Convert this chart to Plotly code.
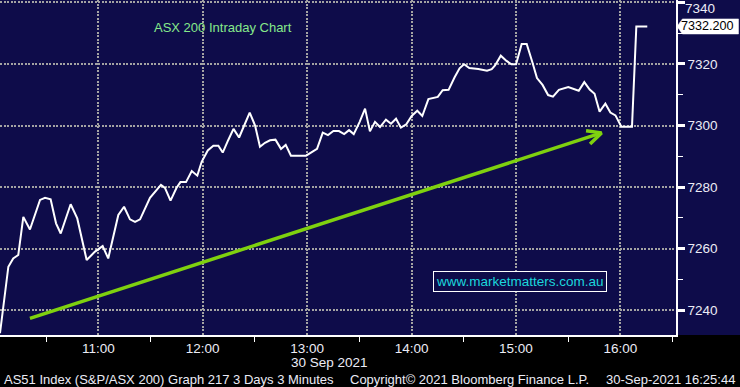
import plotly.graph_objects as go

DATE = "2021-09-30 "

times = [
    "10:03:30", "10:08:18", "10:11:06", "10:14:00", "10:16:54", "10:20:42", "10:26:30", "10:29:24",
    "10:32:36", "10:35:42", "10:38:24", "10:44:06", "10:47:54", "10:53:18", "10:58:06", "11:02:30",
    "11:05:42", "11:11:30", "11:14:48", "11:18:12", "11:21:06", "11:24:00", "11:29:42", "11:32:36",
    "11:36:00", "11:38:18", "11:41:30", "11:44:54", "11:47:12", "11:50:24", "11:53:42", "11:56:54",
    "11:59:24", "12:02:54", "12:06:06", "12:09:00", "12:11:30", "12:14:42", "12:17:42", "12:20:54",
    "12:27:00", "12:30:06", "12:32:54", "12:35:48", "12:38:42", "12:41:48", "12:45:00", "12:47:42",
    "12:50:42", "12:59:24", "13:05:42", "13:09:00", "13:12:00", "13:15:06", "13:18:18", "13:21:18",
    "13:24:06", "13:26:48", "13:30:12", "13:33:18", "13:36:06", "13:39:00", "13:41:54", "13:45:18",
    "13:48:12", "13:51:06", "13:53:54", "13:57:00", "14:00:06", "14:03:18", "14:06:12", "14:09:42",
    "14:15:06", "14:17:54", "14:21:18", "14:24:42", "14:27:36", "14:30:12", "14:33:12", "14:38:24",
    "14:43:24", "14:46:06", "14:48:00", "14:51:18", "14:54:36", "14:57:24", "15:00:06", "15:03:18",
    "15:06:12", "15:09:30", "15:12:06", "15:15:18", "15:18:30", "15:21:18", "15:24:42", "15:30:06",
    "15:36:06", "15:39:18", "15:42:24", "15:45:12", "15:48:06", "15:51:24", "15:54:18", "15:57:12",
    "16:00:36", "16:06:42", "16:09:12", "16:15:30",
]
values = [
    7232.5, 7254.1, 7256.8, 7257.9, 7270.3, 7266.2, 7275.8, 7276.5,
    7276.0, 7268.2, 7264.9, 7274.4, 7269.8, 7256.3, 7259.0, 7260.8,
    7256.8, 7270.9, 7273.6, 7269.5, 7268.7, 7269.5, 7276.5, 7278.5,
    7280.7, 7279.7, 7275.6, 7279.7, 7281.6, 7281.6, 7285.2, 7283.7,
    7288.2, 7291.9, 7293.4, 7293.4, 7291.2, 7295.3, 7298.9, 7296.1,
    7304.2, 7300.0, 7293.1, 7294.4, 7295.2, 7295.4, 7292.4, 7293.7,
    7290.2, 7290.2, 7292.4, 7297.7, 7296.9, 7298.2, 7298.2, 7297.2,
    7298.5, 7297.2, 7301.2, 7305.5, 7298.1, 7301.2, 7299.5, 7301.9,
    7300.6, 7302.2, 7299.3, 7300.4, 7303.1, 7304.8, 7303.1, 7308.6,
    7309.3, 7311.5, 7311.6, 7315.6, 7318.6, 7319.9, 7318.7, 7318.4,
    7317.8, 7318.3, 7319.5, 7322.7, 7321.0, 7319.9, 7319.9, 7326.5,
    7326.5, 7320.5, 7315.4, 7313.2, 7309.9, 7309.4, 7311.6, 7312.5,
    7311.3, 7314.1, 7311.7, 7310.3, 7304.5, 7307.1, 7304.2, 7303.3,
    7299.6, 7299.6, 7332.2, 7332.2,
]

y_ticks = [7240, 7260, 7280, 7300, 7320, 7340]
y_labels = ["7240", "7260", "7280", "7300", "7320", ""]   # top label placed separately (nudged down)
x_ticks = ["11:00", "12:00", "13:00", "14:00", "15:00", "16:00"]
x_minor = ["10:30", "11:30", "12:30", "13:30", "14:30", "15:30", "16:30"]

# trend arrow (shaft start, tip, and the two wing ends)
arrow_times = ["10:20:42", "15:49:12", None, "15:40:18", "15:49:12", "15:42:36"]
arrow_vals = [7237.3, 7297.6, None, 7298.3, 7297.6, 7294.0]

last_value = values[-1]

NAVY = "#0e0c4a"
GRID = "#a3a3a3"
TXT = "#ececf6"
FONT = "Liberation Sans"
FS = 13

fig = go.Figure()

fig.add_trace(go.Scatter(
    x=[DATE + t if t else None for t in arrow_times], y=arrow_vals,
    mode="lines", line=dict(color="#7fd10f", width=3.5), hoverinfo="skip",
    connectgaps=False,
))
fig.add_trace(go.Scatter(
    x=[DATE + t for t in times], y=values,
    mode="lines", line=dict(color="white", width=2),
))

fig.update_layout(
    width=740, height=387,
    margin=dict(l=0, r=64, t=0, b=52),
    paper_bgcolor="black", plot_bgcolor=NAVY,
    showlegend=False,
    font=dict(family=FONT, size=FS, color=TXT),
)

fig.update_xaxes(
    type="date",
    range=[DATE + "10:03:30", DATE + "16:32:00"],
    tickvals=[DATE + t for t in x_ticks], ticktext=x_ticks,
    ticks="", showgrid=True, gridcolor=GRID, gridwidth=2, griddash="2px,1.5px",
    showline=True, linecolor="white", linewidth=1.5,
    tickfont=dict(size=13.5, color=TXT),
    minor=dict(ticks="outside", ticklen=5, tickwidth=1, tickcolor="white",
               tickvals=[DATE + t for t in x_minor], showgrid=False),
    zeroline=False,
)
fig.update_yaxes(
    side="right",
    range=[7231.9, 7340.8],
    tickvals=y_ticks, ticktext=y_labels,
    ticks="outside", ticklen=7, tickwidth=2.5, tickcolor="white",
    showgrid=True, gridcolor=GRID, gridwidth=2, griddash="2px,1.5px",
    showline=True, linecolor="white", linewidth=1.5,
    tickfont=dict(size=13.5, color=TXT),
    minor=dict(ticks="outside", ticklen=5, tickwidth=1, tickcolor="white", dtick=10, showgrid=False),
    zeroline=False,
)

fig.add_annotation(xref="paper", yref="y", x=1.0, y=y_ticks[-1], xanchor="left", yanchor="middle",
                   xshift=7, yshift=-6, text=str(y_ticks[-1]), showarrow=False,
                   font=dict(size=13.5, color=TXT, family=FONT))

# navy band behind the right-hand label area
fig.add_shape(type="rect", xref="paper", yref="paper", x0=1, x1=740 / 676, y0=0, y1=1,
              fillcolor=NAVY, line_width=0, layer="below")

# last price label (pointed box)
h = 2.45
fig.add_shape(type="path", xref="paper", yref="y",
              path=(f"M 1.0015 {last_value} L 1.0095 {last_value + h} L 1.0925 {last_value + h} "
                    f"L 1.0925 {last_value - h} L 1.0095 {last_value - h} Z"),
              fillcolor="white", line=dict(color="white", width=0.5), layer="above")
fig.add_annotation(xref="paper", yref="y", x=1.0051, y=last_value, xanchor="left", yanchor="middle",
                   text=f"{last_value:.3f}", showarrow=False,
                   font=dict(size=12.6, color="black", family=FONT))

fig.add_annotation(xref="paper", yref="paper", x=223 / 676, y=1 - 28 / 335, xanchor="center", yanchor="middle",
                   text="ASX 200 Intraday Chart", showarrow=False,
                   font=dict(size=FS, color="#86e98a", family=FONT))

fig.add_annotation(xref="paper", yref="paper", x=519.5 / 676, y=1 - 281.5 / 335, xanchor="center", yanchor="middle",
                   text="www.marketmatters.com.au", showarrow=False,
                   font=dict(size=13.5, color="#1cd6dc", family=FONT),
                   bgcolor=NAVY, bordercolor="white", borderwidth=1, borderpad=2)

fig.add_annotation(xref="paper", yref="paper", x=329.5 / 676, y=(335 - 362) / 335, xanchor="center", yanchor="middle",
                   text="30 Sep 2021", showarrow=False, font=dict(size=13.5, color=TXT, family=FONT))

bottom_y = (335 - 379) / 335
fig.add_annotation(xref="paper", yref="paper", x=2 / 676, y=bottom_y, xanchor="left", yanchor="middle",
                   text="AS51 Index (S&P/ASX 200) Graph 217 3 Days 3 Minutes", showarrow=False,
                   font=dict(size=FS, color=TXT, family=FONT))
fig.add_annotation(xref="paper", yref="paper", x=348 / 676, y=bottom_y, xanchor="left", yanchor="middle",
                   text="Copyright© 2021 Bloomberg Finance L.P.", showarrow=False,
                   font=dict(size=FS, color=TXT, family=FONT))
fig.add_annotation(xref="paper", yref="paper", x=737 / 676, y=bottom_y, xanchor="right", yanchor="middle",
                   text="30-Sep-2021 16:25:44", showarrow=False,
                   font=dict(size=FS, color=TXT, family=FONT))

fig.write_html("out.html")
